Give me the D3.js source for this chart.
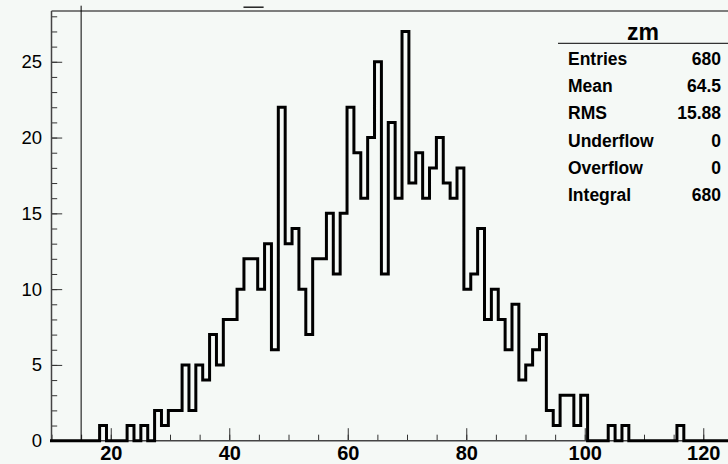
<!DOCTYPE html>
<html>
<head>
<meta charset="utf-8">
<script src="https://cdn.jsdelivr.net/npm/d3@7"></script>
<style>
  html, body { margin: 0; padding: 0; background: #f5f9f6; }
  svg { display: block; }
  text { font-family: "Liberation Sans", Arial, Helvetica, sans-serif; fill: #000; }
</style>
</head>
<body>
<svg id="chart" width="728" height="464"></svg>
<script>
// Histogram "zm": 100 bins of width 1.16 starting at 10
const histName = "zm";
const binStart = 10;
const binWidth = 1.16;
const counts = [
  0, 0, 0, 0, 0, 0, 0, 1, 0, 0,
  0, 1, 0, 1, 0, 2, 1, 2, 2, 5,
  2, 5, 4, 7, 5, 8, 8, 10, 12, 12,
  10, 13, 6, 22, 13, 14, 10, 7, 12, 12,
  15, 11, 15, 22, 19, 16, 20, 25, 11, 21,
  16, 27, 17, 19, 16, 18, 20, 17, 16, 18,
  10, 11, 14, 8, 10, 8, 6, 9, 4, 5,
  6, 7, 2, 1, 3, 3, 1, 3, 0, 0,
  0, 1, 0, 1, 0, 0, 0, 0, 0, 0,
  0, 1, 0, 0, 0, 0, 0, 0, 0, 0
];

// Axis ticks
const xMajorTicks = [20, 40, 60, 80, 100, 120];
const xMinorTicks = d3.range(10, 126.01, 5);
const yMajorTicks = [0, 5, 10, 15, 20, 25];
const yMinorTicks = d3.range(0, 28.01, 1);

// Vertical marker line and statistics panel
const markerX = [15];
const markerTop = 28.7;
const titleDash = [42.4, 45.8];
const titleDashY = 28.6;
const statLabels = ["Entries", "Mean", "RMS", "Underflow", "Overflow", "Integral"];
const statValues = ["680", "64.5", "15.88", "0", "0", "680"];

const svg = d3.select("#chart");
const xMin = binStart, xMax = binStart + counts.length * binWidth;
const yMax = 1.05 * d3.max(counts);

const frameLeft = 51.5, frameBottom = 440.7, frameTop = 11;
const pxPerUnit = 5.925;
const x = d3.scaleLinear().domain([xMin, xMax]).range([frameLeft, frameLeft + (xMax - xMin) * pxPerUnit]);
const y = d3.scaleLinear().domain([0, yMax]).range([frameBottom, frameTop]);

// Frame top line
svg.append("line")
  .attr("x1", x(xMin)).attr("x2", x(xMax)).attr("y1", y(yMax)).attr("y2", y(yMax))
  .attr("stroke", "#555").attr("stroke-width", 1.5);

// X axis: minor and major ticks pointing up
const gx = svg.append("g").attr("transform", `translate(0,${frameBottom})`);
gx.append("g").call(d3.axisBottom(x).tickValues(xMinorTicks).tickSize(-6).tickSizeOuter(0).tickFormat(""))
  .call(g => g.select(".domain").remove())
  .call(g => g.selectAll("line").attr("stroke", "#333").attr("stroke-width", 1));
gx.append("g").call(d3.axisBottom(x).tickValues(xMajorTicks).tickSize(-12.5).tickSizeOuter(0).tickPadding(5.5).tickFormat(d3.format("d")))
  .call(g => g.select(".domain").remove())
  .call(g => g.selectAll("line").attr("stroke", "#333").attr("stroke-width", 1))
  .call(g => g.selectAll("text").attr("font-size", 20).attr("font-weight", "bold")
    .style("font-family", '"Liberation Sans", Arial, sans-serif').attr("fill", "#000"));
gx.append("line").attr("x1", x(xMin)).attr("x2", x(xMax)).attr("y1", 0).attr("y2", 0)
  .attr("stroke", "#444").attr("stroke-width", 1.5);

// Y axis: minor and major ticks pointing right
const gy = svg.append("g").attr("transform", `translate(${frameLeft},0)`);
gy.append("g").call(d3.axisLeft(y).tickValues(yMinorTicks).tickSize(-5.7).tickSizeOuter(0).tickFormat(""))
  .call(g => g.select(".domain").remove())
  .call(g => g.selectAll("line").attr("stroke", "#333").attr("stroke-width", 1));
gy.append("g").call(d3.axisLeft(y).tickValues(yMajorTicks).tickSize(-10.7).tickSizeOuter(0).tickPadding(9.5).tickFormat(d3.format("d")))
  .call(g => g.select(".domain").remove())
  .call(g => g.selectAll("line").attr("stroke", "#333").attr("stroke-width", 1))
  .call(g => g.selectAll("text").attr("font-size", 18.5)
    .style("font-family", '"Liberation Sans", Arial, sans-serif').attr("fill", "#111"));
gy.append("line").attr("x1", 0).attr("x2", 0).attr("y1", y(0)).attr("y2", y(yMax))
  .attr("stroke", "#444").attr("stroke-width", 1.5);

// Histogram outline
const pts = [[xMin, 0]];
counts.forEach((c, i) => {
  const lo = binStart + i * binWidth, hi = lo + binWidth;
  pts.push([lo, c], [hi, c]);
});
pts.push([xMax, 0]);
svg.append("path")
  .datum(pts)
  .attr("d", d3.line().x(d => x(d[0])).y(d => y(d[1])))
  .attr("fill", "none").attr("stroke", "#000").attr("stroke-width", 3)
  .attr("stroke-linejoin", "miter").attr("stroke-linecap", "square");

// Vertical marker
svg.selectAll(".marker").data(markerX).enter().append("line")
  .attr("class", "marker")
  .attr("x1", d => x(d)).attr("x2", d => x(d))
  .attr("y1", y(0)).attr("y2", y(markerTop))
  .attr("stroke", "#000").attr("stroke-width", 1);

// Short dash above the frame
svg.append("line")
  .attr("x1", x(titleDash[0])).attr("x2", x(titleDash[1]))
  .attr("y1", y(titleDashY)).attr("y2", y(titleDashY))
  .attr("stroke", "#222").attr("stroke-width", 1.5);

// Statistics panel
const stats = svg.append("g");
stats.append("text").text(histName)
  .attr("x", 643).attr("y", 40).attr("text-anchor", "middle")
  .attr("font-size", 23).attr("font-weight", "bold");
stats.append("line").attr("x1", 558).attr("x2", 728).attr("y1", 43.3).attr("y2", 43.3)
  .attr("stroke", "#333").attr("stroke-width", 1.2);
const rowY = d3.scaleLinear().domain([0, statLabels.length - 1]).range([58.3, 195]);
stats.selectAll(".slabel").data(statLabels).enter().append("text")
  .attr("class", "slabel").text(d => d)
  .attr("x", 568).attr("y", (d, i) => rowY(i)).attr("dy", "0.36em")
  .attr("font-size", 17.5).attr("font-weight", "bold");
stats.selectAll(".svalue").data(statValues).enter().append("text")
  .attr("class", "svalue").text(d => d)
  .attr("x", 721).attr("y", (d, i) => rowY(i)).attr("dy", "0.36em")
  .attr("text-anchor", "end")
  .attr("font-size", 17.5).attr("font-weight", "bold");
</script>
</body>
</html>
